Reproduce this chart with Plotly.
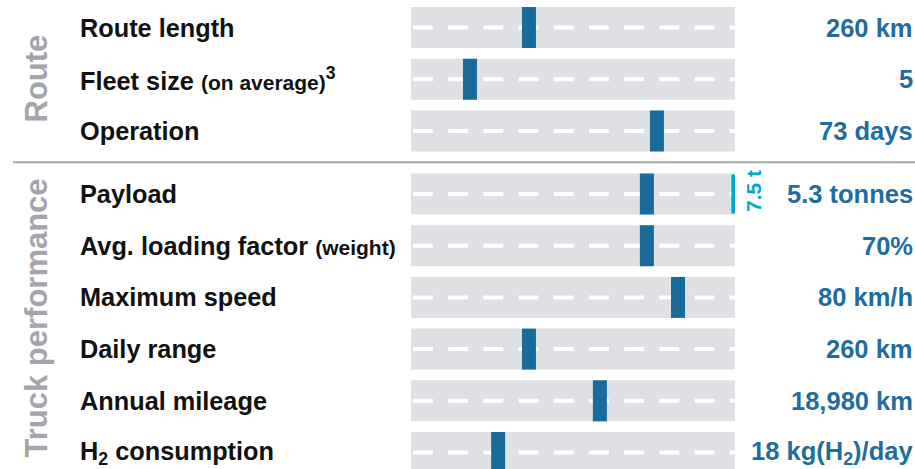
import plotly.graph_objects as go

# ---------------- data ----------------
route_labels = ["Route length",
                "Fleet size <span style='font-size:21px'>(on average)</span><sup>3</sup>",
                "Operation"]
route_values = ["260 km", "5", "73 days"]
route_pos = [0.364, 0.182, 0.759]          # marker position along the track (0..1)

truck_labels = ["Payload",
                "Avg. loading factor <span style='font-size:21px'>(weight)</span>",
                "Maximum speed",
                "Daily range",
                "Annual mileage",
                "H<sub>2</sub> consumption"]
truck_values = ["5.3 tonnes", "70%", "80 km/h", "260 km", "18,980 km",
                "18 kg(H<sub>2</sub>)/day"]
truck_pos = [0.728, 0.728, 0.824, 0.364, 0.583, 0.269]

payload_limit_pos = 0.995
payload_limit_label = "7.5 t"

group_names = ["Route", "Truck performance"]

# ---------------- style ----------------
FW, FH = 915, 469
FONT = "Liberation Sans, Arial, sans-serif"
TRACK = "#dfe0e3"
BLUE = "#186b9b"
VAL_BLUE = "#1f6d9d"
CYAN = "#00a9c8"
GREY_TXT = "#a3a5a8"
PITCH = 51.7
TRACK_H = 41


def px(x):
    return x / FW


def py(y):
    return 1 - y / FH


route_cats = ["r%d" % i for i in range(len(route_labels))]
truck_cats = ["t%d" % i for i in range(len(truck_labels))]

fig = go.Figure()


def add_group(cats, pos, xa, ya):
    n = len(cats)
    fig.add_trace(go.Bar(y=cats, x=[1.0] * n, base=[0] * n, orientation="h",
                         width=TRACK_H / PITCH, marker=dict(color=TRACK, line=dict(width=0)),
                         xaxis=xa, yaxis=ya, hoverinfo="skip", showlegend=False))
    for c in cats:
        fig.add_trace(go.Scatter(x=[0.006, 1.0], y=[c, c], mode="lines",
                                 line=dict(color="white", width=4, dash="20px,15.2px"),
                                 xaxis=xa, yaxis=ya, hoverinfo="skip", showlegend=False))
    fig.add_trace(go.Scatter(x=pos, y=cats, mode="markers",
                             marker=dict(symbol="line-ns", size=TRACK_H / 1.4,
                                         line=dict(color=BLUE, width=14)),
                             xaxis=xa, yaxis=ya, hoverinfo="skip", showlegend=False))


add_group(route_cats, route_pos, "x", "y")
add_group(truck_cats, truck_pos, "x2", "y2")

fig.add_trace(go.Scatter(x=[payload_limit_pos], y=[truck_cats[0]], mode="markers",
                         marker=dict(symbol="line-ns", size=39 / 1.4,
                                     line=dict(color=CYAN, width=4)),
                         xaxis="x2", yaxis="y2", hoverinfo="skip", showlegend=False))

xdom = [px(411), px(735)]
r0 = 27.5
route_top_cat = (0 - r0) / PITCH
route_bot = r0 + (len(route_cats) - 0.5) * PITCH
t0 = 194
truck_top = t0 - PITCH / 2
truck_range_bottom = (FH - t0) / PITCH

fig.update_layout(
    width=FW, height=FH, margin=dict(l=0, r=0, t=0, b=0),
    paper_bgcolor="white", plot_bgcolor="rgba(0,0,0,0)",
    barmode="overlay", showlegend=False,
    font=dict(family=FONT),
    xaxis=dict(domain=xdom, range=[0, 1], visible=False, fixedrange=True),
    xaxis2=dict(domain=xdom, range=[0, 1], visible=False, anchor="y2", fixedrange=True),
    yaxis=dict(domain=[1 - route_bot / FH, 1], type="category",
               categoryorder="array", categoryarray=route_cats,
               range=[len(route_cats) - 0.5, route_top_cat], visible=False, fixedrange=True),
    yaxis2=dict(domain=[0, 1 - truck_top / FH], type="category",
                categoryorder="array", categoryarray=truck_cats,
                range=[truck_range_bottom, -0.5], visible=False, anchor="x2", fixedrange=True),
)

ann = []
for cats, labels, values, yref in [(route_cats, route_labels, route_values, "y"),
                                   (truck_cats, truck_labels, truck_values, "y2")]:
    for c, lab, val in zip(cats, labels, values):
        ann.append(dict(xref="paper", yref=yref, x=px(78), y=c, text="<b>%s</b>" % lab,
                        xanchor="left", yanchor="middle", showarrow=False,
                        font=dict(size=25.3, color="#111111", family=FONT)))
        ann.append(dict(xref="paper", yref=yref, x=px(915), y=c, text="<b>%s</b>" % val,
                        xanchor="right", yanchor="middle", showarrow=False,
                        font=dict(size=25.5, color=VAL_BLUE, family=FONT)))

ann.append(dict(xref="paper", yref="y2", x=px(753), y=truck_cats[0], yshift=3,
                text="<b>%s</b>" % payload_limit_label, textangle=-90,
                xanchor="center", yanchor="middle", showarrow=False,
                font=dict(size=21, color=CYAN, family=FONT)))

ann.append(dict(xref="paper", yref="paper", x=px(36), y=py(78.5),
                text="<b>%s</b>" % group_names[0], textangle=-90,
                xanchor="center", yanchor="middle", showarrow=False,
                font=dict(size=31, color=GREY_TXT, family=FONT)))
ann.append(dict(xref="paper", yref="paper", x=px(36), y=py(318.5),
                text="<b>%s</b>" % group_names[1], textangle=-90,
                xanchor="center", yanchor="middle", showarrow=False,
                font=dict(size=31, color=GREY_TXT, family=FONT)))

fig.update_layout(annotations=ann)

fig.add_shape(type="line", xref="paper", yref="paper", x0=px(13), x1=1,
              y0=py(162.3), y1=py(162.3),
              line=dict(color="#a6a6a6", width=2))

fig.write_html("out.html",
               config={"displayModeBar": False, "staticPlot": True},
               post_script="document.body.style.margin='0';document.body.style.overflow='hidden';")
